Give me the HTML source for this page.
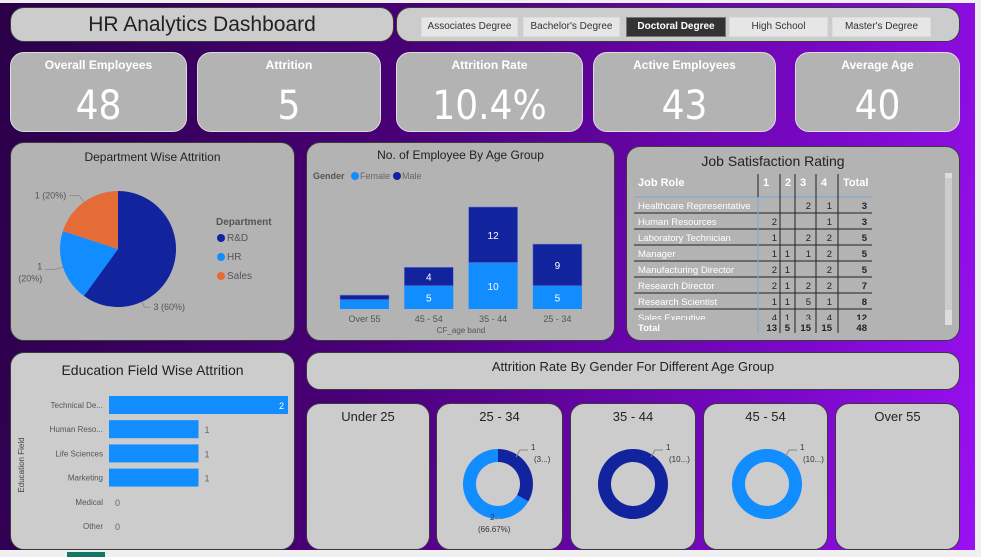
<!DOCTYPE html>
<html><head><meta charset="utf-8"><style>
*{box-sizing:border-box;margin:0;padding:0}
body{width:981px;height:557px;overflow:hidden;background:#f0f0f0;font-family:"Liberation Sans",sans-serif;position:relative}
#bg{position:absolute;left:0;top:3px;width:975px;height:547px;background:linear-gradient(100deg,#2a0048 0%,#4a0078 40%,#7a08c8 80%,#9a10f2 100%)}
.card{position:absolute;background:#b3b3b3;border:1px solid #3a3a3a;border-radius:14px}
.lt{background:#cccccc}
.t{position:absolute;left:0;right:0;text-align:center;color:#222}
.kt{color:#fff;font-weight:bold;font-size:12px;top:5px}
.kv{color:#fff;font-size:40px;top:30px;font-family:"Liberation Sans Narrow","DejaVu Sans Condensed",sans-serif}
.btn{position:absolute;top:17px;height:20px;background:#e6e6e6;border:1px solid #ddd;font-size:10px;color:#333;text-align:center;line-height:18px}
svg text{font-family:"Liberation Sans",sans-serif}
</style></head><body>
<div id="bg"></div>
<div style="position:absolute;left:67px;top:552px;width:38px;height:5px;background:#117865"></div>
<div class="card lt" style="left:10px;top:7px;width:384px;height:35px"><div class="t" style="top:5px;font-size:21px;color:#222">HR Analytics Dashboard</div></div>
<div class="card lt" style="left:396px;top:7px;width:564px;height:35px"></div>
<div class="btn" style="left:421px;width:97px">Associates Degree</div>
<div class="btn" style="left:523px;width:97px">Bachelor's Degree</div>
<div class="btn" style="left:626px;width:100px;background:#333;color:#fff;font-weight:bold;border-color:#777">Doctoral Degree</div>
<div class="btn" style="left:729px;width:99px">High School</div>
<div class="btn" style="left:832px;width:99px">Master's Degree</div>

<div class="card" style="left:10px;top:52px;width:177px;height:80px;border-color:#ddd"><div class="t kt">Overall Employees</div><div class="t kv">48</div></div>
<div class="card" style="left:197px;top:52px;width:184px;height:80px;border-color:#ddd"><div class="t kt">Attrition</div><div class="t kv">5</div></div>
<div class="card" style="left:396px;top:52px;width:187px;height:80px;border-color:#ddd"><div class="t kt">Attrition Rate</div><div class="t kv">10.4%</div></div>
<div class="card" style="left:593px;top:52px;width:183px;height:80px;border-color:#ddd"><div class="t kt">Active Employees</div><div class="t kv">43</div></div>
<div class="card" style="left:795px;top:52px;width:165px;height:80px;border-color:#ddd"><div class="t kt">Average Age</div><div class="t kv">40</div></div>

<div class="card" style="left:10px;top:142px;width:285px;height:199px"><div class="t" style="top:7px;font-size:12px">Department Wise Attrition</div></div>
<div class="card" style="left:306px;top:142px;width:309px;height:199px"><div class="t" style="top:5px;font-size:12px">No. of Employee By Age Group</div></div>
<div class="card" style="left:626px;top:146px;width:334px;height:195px"><div class="t" style="top:6px;font-size:14px;left:-40px">Job Satisfaction Rating</div></div>
<div class="card lt" style="left:10px;top:352px;width:285px;height:198px"><div class="t" style="top:9px;font-size:14px">Education Field Wise Attrition</div></div>
<div class="card lt" style="left:306px;top:352px;width:654px;height:38px"><div class="t" style="top:6px;font-size:13px">Attrition Rate By Gender For Different Age Group</div></div>
<div class="card lt" style="left:306px;top:403px;width:124px;height:147px"><div class="t" style="top:5px;font-size:13px">Under 25</div></div>
<div class="card lt" style="left:436px;top:403px;width:127px;height:147px"><div class="t" style="top:5px;font-size:13px">25 - 34</div></div>
<div class="card lt" style="left:570px;top:403px;width:126px;height:147px"><div class="t" style="top:5px;font-size:13px">35 - 44</div></div>
<div class="card lt" style="left:703px;top:403px;width:125px;height:147px"><div class="t" style="top:5px;font-size:13px">45 - 54</div></div>
<div class="card lt" style="left:835px;top:403px;width:125px;height:147px"><div class="t" style="top:5px;font-size:13px">Over 55</div></div>

<svg id="svg" width="981" height="557" style="position:absolute;left:0;top:0"></svg>
<script>
const deptNames=["R&D","HR","Sales"];
const deptValues=[3,1,1];
const ageBands=["Over 55","45 - 54","35 - 44","25 - 34"];
const femaleValues=[2,5,10,5];
const maleValues=[1,4,12,9];
const jobRoles=["Healthcare Representative","Human Resources","Laboratory Technician","Manager","Manufacturing Director","Research Director","Research Scientist","Sales Executive"];
const sat1=[null,2,1,1,2,2,1,4];
const sat2=[null,null,null,1,1,1,1,1];
const sat3=[2,null,2,1,null,2,5,3];
const sat4=[1,1,2,2,2,2,1,4];
const satTotals=[13,5,15,15,48];
const eduFields=["Technical De...","Human Reso...","Life Sciences","Marketing","Medical","Other"];
const eduValues=[2,1,1,1,0,0];
const donutBands=["25 - 34","35 - 44","45 - 54"];
const donutMale=[1,1,0];
const donutFemale=[2,0,1];

const NS="http://www.w3.org/2000/svg",S=document.getElementById('svg');
function mk(t,a,txt){const e=document.createElementNS(NS,t);for(const k in a)e.setAttribute(k,a[k]);if(txt!==undefined)e.textContent=txt;S.appendChild(e);return e;}
const DARK="#12239e",LIGHT="#118dff",OR="#e66c37";
function arc(cx,cy,r,ri,a0,a1){const p=(a,rr)=>[cx+rr*Math.sin(a),cy-rr*Math.cos(a)];
 if(a1-a0>=2*Math.PI-1e-6){a1=a0+2*Math.PI-1e-4;}
 const lg=(a1-a0)>Math.PI?1:0;
 const [x0,y0]=p(a0,r),[x1,y1]=p(a1,r);
 if(!ri)return `M${cx},${cy}L${x0},${y0}A${r},${r} 0 ${lg} 1 ${x1},${y1}Z`;
 const [x2,y2]=p(a1,ri),[x3,y3]=p(a0,ri);
 return `M${x0},${y0}A${r},${r} 0 ${lg} 1 ${x1},${y1}L${x2},${y2}A${ri},${ri} 0 ${lg} 0 ${x3},${y3}Z`;}

// pie
const pcol=[DARK,LIGHT,OR];let tot=deptValues.reduce((a,b)=>a+b,0),a=0;
deptValues.forEach((v,i)=>{const a1=a+v/tot*2*Math.PI;const e=mk('path',{d:arc(118,249,58,0,a,a1),fill:pcol[i]});


const pct=Math.round(v/tot*100);
const big=(a1-a)>Math.PI;
if(big){
 const m=a1-(a1-a)*0.28,sx=118+58*Math.sin(m),sy=249-58*Math.cos(m);
 const ex2=118+64*Math.sin(m),ey2=249-64*Math.cos(m);
 mk('path',{d:`M${sx},${sy}L${ex2},${ey2}L${ex2+6},${ey2}`,stroke:'#888',fill:'none','stroke-width':0.8});
 const tx=mk('text',{x:ex2+9,y:ey2+3,'font-size':9,fill:'#555'},v+' ('+pct+'%)');
 
 
}else{
 const m=(a+a1)/2,sx=118+58*Math.sin(m),sy=249-58*Math.cos(m);
 const ex2=118+66*Math.sin(m),ey2=249-66*Math.cos(m);
 const lx=ex2-10;
 mk('path',{d:`M${sx},${sy}L${ex2},${ey2}L${lx},${ey2}`,stroke:'#888',fill:'none','stroke-width':0.8});
 if(Math.cos(m)>0.2){
  const tx=mk('text',{x:lx-3,y:ey2+3,'font-size':9,fill:'#555','text-anchor':'end'},v+' ('+pct+'%)');
  
  
 }else{
  const tx=mk('text',{x:lx-3,y:ey2,'font-size':9,fill:'#555','text-anchor':'end'},v);
  
  
  mk('text',{x:lx-3,y:ey2+12,'font-size':9,fill:'#555','text-anchor':'end'},'('+pct+'%)');}
}
a=a1;});
mk('text',{x:216,y:225,'font-size':10,'font-weight':'bold',fill:'#555'},'Department');
deptNames.forEach((n,i)=>{mk('circle',{cx:221,cy:238+i*19,r:4,fill:pcol[i]});const t=mk('text',{x:227,y:241+i*19,'font-size':10,fill:'#555'},n);

});

// stacked bars
mk('text',{x:313,y:179,'font-size':9,'font-weight':'bold',fill:'#555'},'Gender');
mk('circle',{cx:355,cy:176,r:4,fill:LIGHT});mk('text',{x:360,y:179,'font-size':9,fill:'#666'},'Female');
mk('circle',{cx:397,cy:176,r:4,fill:DARK});mk('text',{x:402,y:179,'font-size':9,fill:'#666'},'Male');
const base=309,ppu=102/22,bx0=340,bstep=64.3,bw=49;
ageBands.forEach((b,i)=>{const x=bx0+i*bstep;const hf=femaleValues[i]*ppu,hm=maleValues[i]*ppu;
const rf=mk('rect',{x:x,y:base-hf,width:bw,height:hf,fill:LIGHT});


const rm=mk('rect',{x:x,y:base-hf-hm,width:bw,height:hm,fill:DARK,stroke:'#6a7fd0','stroke-width':0.6});


if(hf>14)mk('text',{x:x+bw/2,y:base-hf/2+4,'font-size':10,fill:'#fff','text-anchor':'middle'},femaleValues[i]);
if(hm>14)mk('text',{x:x+bw/2,y:base-hf-hm/2+4,'font-size':10,fill:'#fff','text-anchor':'middle'},maleValues[i]);
mk('text',{x:x+bw/2,y:322,'font-size':9,fill:'#555','text-anchor':'middle'},b);});
mk('text',{x:461,y:333,'font-size':8,fill:'#555','text-anchor':'middle'},'CF_age band');

// table
const cl=[758,780,795,816,838],cr=[777,790,811,832,867];
mk('text',{x:638,y:186,'font-size':11,'font-weight':'bold',fill:'#fff'},'Job Role');
["1","2","3","4","Total"].forEach((h,j)=>mk('text',{x:cl[j]+5,y:186,'font-size':11,'font-weight':'bold',fill:'#fff'},h));
mk('line',{x1:634,y1:197,x2:872,y2:197,stroke:'#7ba7d6','stroke-width':1});
jobRoles.forEach((r,i)=>{const y=209+i*16;
mk('text',{x:638,y:y,'font-size':9.5,fill:'#fff'},r);
[sat1,sat2,sat3,sat4].forEach((s,j)=>{if(s[i]!=null)mk('text',{x:cr[j],y:y,'font-size':9.5,fill:'#222','text-anchor':'end'},s[i]);});
const t=(sat1[i]||0)+(sat2[i]||0)+(sat3[i]||0)+(sat4[i]||0);
mk('text',{x:cr[4],y:y,'font-size':9.5,'font-weight':'bold',fill:'#222','text-anchor':'end'},t);
if(i<7)mk('line',{x1:634,y1:y+4,x2:872,y2:y+4,stroke:'#222','stroke-width':1});});
mk('rect',{x:630,y:320,width:245,height:14,fill:'#b3b3b3'});
cl.forEach(x=>mk('line',{x1:x,y1:174,x2:x,y2:333,stroke:'#222','stroke-width':1}));
mk('line',{x1:758,y1:197,x2:758,y2:333,stroke:'#7ba7d6','stroke-width':1});
mk('text',{x:638,y:331,'font-size':9.5,'font-weight':'bold',fill:'#fff'},'Total');
satTotals.forEach((v,j)=>mk('text',{x:cr[j],y:331,'font-size':9.5,'font-weight':'bold',fill:'#222','text-anchor':'end'},v));
const sb=mk('rect',{x:945,y:173,width:7,height:152,fill:'#ddd'});


mk('rect',{x:945,y:178,width:7,height:132,fill:'#ccc'});

// education bars
const ex=109,eppu=179/2;
mk('text',{x:0,y:0,'font-size':8,fill:'#444','text-anchor':'middle',transform:'translate(24,465) rotate(-90)'},'Education Field');
eduFields.forEach((f,i)=>{const y=405+i*24.2;
mk('text',{x:103,y:y+3,'font-size':8,fill:'#555','text-anchor':'end'},f);
const w=eduValues[i]*eppu;
if(w>0){const r=mk('rect',{x:ex,y:y-9,width:w,height:18,fill:LIGHT});

}
if(i===0)mk('text',{x:ex+w-4,y:y+4,'font-size':9,fill:'#fff','text-anchor':'end'},eduValues[i]);
else mk('text',{x:ex+w+6,y:y+4,'font-size':9,fill:'#666'},eduValues[i]);});

// donuts
const dcx=[498,633,767];
donutBands.forEach((b,i)=>{const cx=dcx[i],cy=484,t=donutMale[i]+donutFemale[i];let a=0;
[[donutMale[i],DARK],[donutFemale[i],LIGHT]].forEach(([v,c])=>{if(!v)return;const a1=a+v/t*2*Math.PI;
const p=mk('path',{d:arc(cx,cy,35,22,a,a1),fill:c});


a=a1;});
const pct=v=>(v/t*100).toFixed(2)+'%';
const mv=donutMale[i]||donutFemale[i];
mk('text',{x:cx+33,y:450,'font-size':8,fill:'#333'},mv);
mk('text',{x:cx+36,y:462,'font-size':8,fill:'#333'},t===mv?'(10...)':'(3...)');
mk('path',{d:`M${cx+18},${457}l4,-7h8`,stroke:'#888',fill:'none'});
if(donutMale[i]&&donutFemale[i]){mk('text',{x:cx-8,y:520,'font-size':8,fill:'#333'},donutFemale[i]);
mk('path',{d:`M${cx-2},${519}l4,-2`,stroke:'#888',fill:'none'});
mk('text',{x:cx-20,y:532,'font-size':8,fill:'#333'},'('+pct(donutFemale[i])+')');}});
</script>
</body></html>
